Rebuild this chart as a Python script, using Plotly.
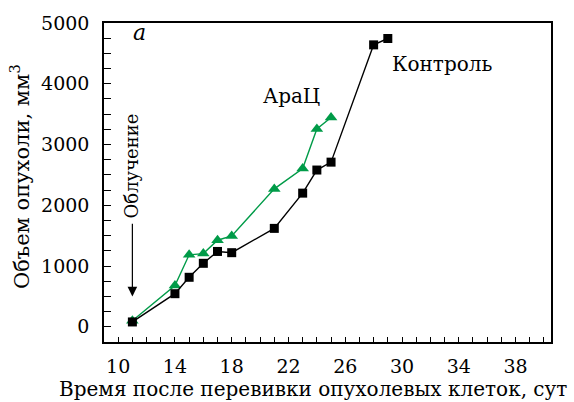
import plotly.graph_objects as go

# Data
control_days = [11, 14, 15, 16, 17, 18, 21, 23, 24, 25, 28, 29]
control_vol = [80, 545, 815, 1045, 1240, 1220, 1620, 2200, 2580, 2710, 4640, 4745]
arac_days = [11, 14, 15, 16, 17, 18, 21, 23, 24, 25]
arac_vol = [100, 680, 1185, 1205, 1425, 1495, 2270, 2605, 3255, 3445]
x_tick_vals = [10, 14, 18, 22, 26, 30, 34, 38]
y_tick_vals = [0, 1000, 2000, 3000, 4000, 5000]

FONT = "DejaVu Serif"
GREEN = "#009b48"

# plot-area pixel geometry (for placing the axis titles)
L, R, T, B = 104, 23, 19, 60
W, H = 574, 402
PW, PH = W - L - R, H - T - B


def px_to_paper(px, py):
    return (px - L) / PW, (H - B - py) / PH


fig = go.Figure()
fig.add_trace(go.Scatter(
    x=arac_days, y=arac_vol, mode="lines+markers",
    line=dict(color=GREEN, width=1.4),
    marker=dict(symbol="triangle-up", size=11, color=GREEN),
    showlegend=False, name="АраЦ"))
fig.add_trace(go.Scatter(
    x=control_days, y=control_vol, mode="lines+markers",
    line=dict(color="black", width=1.4),
    marker=dict(symbol="square", size=9, color="black"),
    showlegend=False, name="Контроль"))

fig.add_annotation(x=11.5, y=4850, text="<i>a</i>", showarrow=False,
                   font=dict(family=FONT, size=22, color="black"))
fig.add_annotation(x=22.2, y=3800, text="АраЦ", showarrow=False,
                   font=dict(family=FONT, size=20, color="black"))
fig.add_annotation(x=32.85, y=4330, text="Контроль", showarrow=False,
                   font=dict(family=FONT, size=20, color="black"))
fig.add_annotation(x=10.95, y=2650, text="Облучение", showarrow=False,
                   textangle=-90, font=dict(family=FONT, size=18, color="black"))
fig.add_annotation(x=11, y=500, ax=11, ay=1720, xref="x", yref="y",
                   axref="x", ayref="y", text="", showarrow=True,
                   arrowhead=2, arrowsize=1.6, arrowwidth=1.2, arrowcolor="black")

xt_x, xt_y = px_to_paper(313, 390)
fig.add_annotation(x=xt_x, y=xt_y, xref="paper", yref="paper",
                   text="Время после перевивки опухолевых клеток, сут",
                   showarrow=False, xanchor="center", yanchor="middle",
                   font=dict(family=FONT, size=20, color="black"))
yt_x, yt_y = px_to_paper(20, 175)
fig.add_annotation(x=yt_x, y=yt_y, xref="paper", yref="paper",
                   text="Объем опухоли, мм<sup>3</sup>", textangle=-90,
                   showarrow=False, xanchor="center", yanchor="middle",
                   font=dict(family=FONT, size=21, color="black"))

fig.update_layout(
    width=W, height=H,
    margin=dict(l=L, r=R, t=T, b=B),
    paper_bgcolor="white", plot_bgcolor="white",
    font=dict(family=FONT, size=19, color="black"),
    xaxis=dict(
        range=[9, 40.5], tickvals=x_tick_vals, ticks="inside", ticklen=5,
        tickwidth=1, tickcolor="black", showgrid=False, zeroline=False,
        showline=True, linecolor="black", linewidth=1.5, mirror=True,
        minor=dict(dtick=1, ticks="inside", ticklen=5, tickcolor="black", showgrid=False),
        tickfont=dict(family=FONT, size=19),
        ticklabelstandoff=6,
    ),
    yaxis=dict(
        range=[-250, 5000], tickvals=y_tick_vals, ticks="inside", ticklen=7,
        tickwidth=1, tickcolor="black", showgrid=False, zeroline=False,
        showline=True, linecolor="black", linewidth=1.5, mirror=True,
        minor=dict(dtick=250, ticks="inside", ticklen=7, tickcolor="black", showgrid=False),
        tickfont=dict(family=FONT, size=19),
        ticklabelstandoff=9,
    ),
)

fig.write_html("out.html")
